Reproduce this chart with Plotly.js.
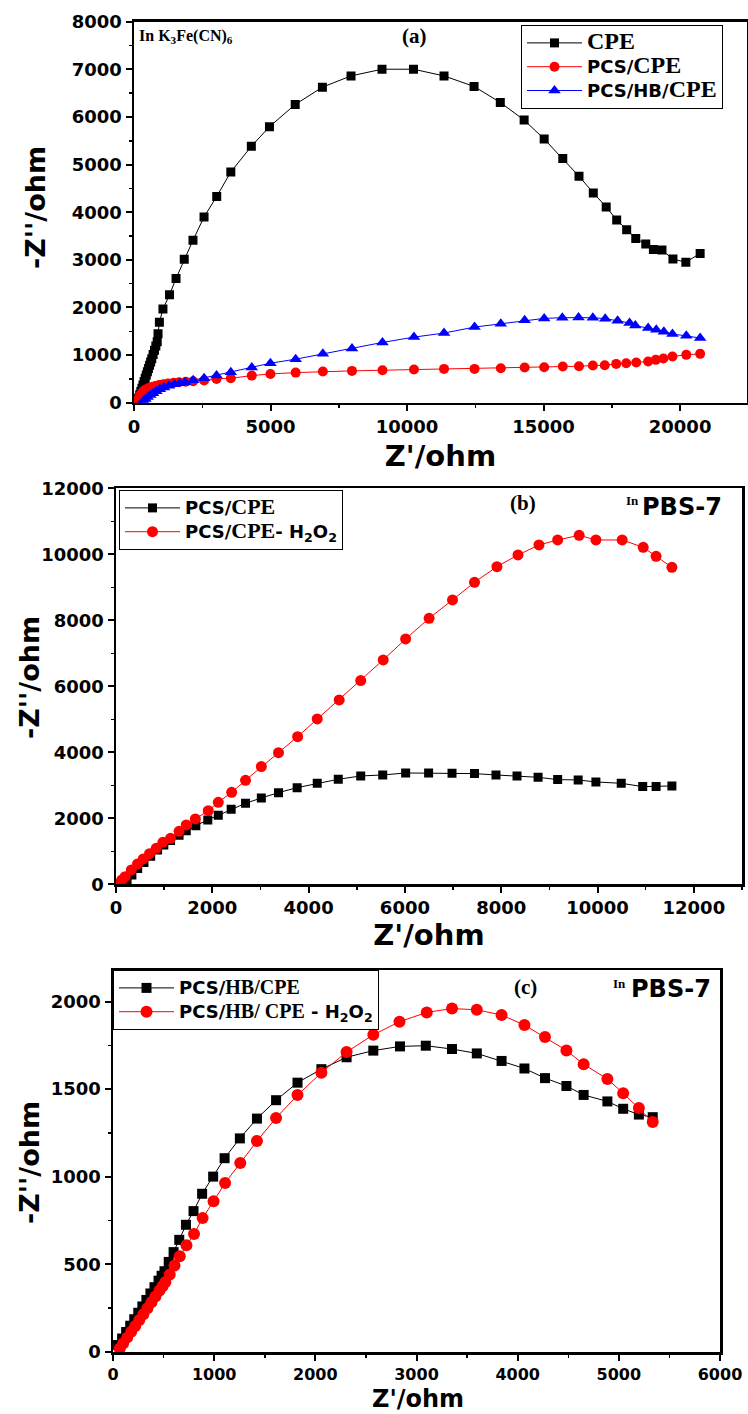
<!DOCTYPE html>
<html>
<head>
<meta charset="utf-8">
<script src="https://cdn.plot.ly/plotly-3.0.1.min.js"></script>
<style>html,body{margin:0;padding:0;background:#fff;}#chart{width:748px;height:1414px;}</style>
</head>
<body>
<div id="chart"></div>
<script>
// ---------- Panel (a): In K3Fe(CN)6 ----------
const aCPE_x = [130,170,210,250,290,330,370,410,450,490,530,570,610,650,700,750,800,850,880,930,1060,1300,1540,1840,2160,2565,3030,3546,4297,4961,5904,6900,7948,9083,10236,11354,12454,13415,14288,15022,15703,16297,16821,17293,17677,18044,18376,18742,19022,19336,19738,20210,20734];
const aCPE_y = [30,99,168,236,305,374,443,512,580,649,718,787,856,924,1010,1100,1190,1280,1450,1690,1965,2265,2610,3010,3410,3900,4330,4846,5383,5795,6262,6625,6862,7002,7002,6862,6640,6304,5935,5537,5125,4755,4405,4111,3837,3633,3450,3331,3219,3204,3015,2951,3134];
const aPCS_x = [130,180,230,290,360,450,550,650,780,920,1080,1250,1450,1650,1900,2166,2568,3022,3546,4314,4996,5921,6917,7983,9100,10253,11354,12472,13433,14306,15022,15703,16297,16804,17240,17660,18026,18393,18830,19110,19389,19720,20227,20734];
const aPCS_y = [30,100,160,210,250,285,310,330,350,370,390,405,420,430,440,450,465,499,513,569,604,632,654,668,682,696,710,710,724,738,745,759,766,780,787,815,829,843,864,900,928,970,1005,1026];
const aHB_x = [300,350,420,500,600,700,820,950,1100,1280,1480,1680,1869,2166,2568,3022,3546,4314,4996,5921,6917,7983,9100,10253,11354,12472,13433,14306,15022,15686,16280,16804,17258,17712,18149,18358,18830,19127,19406,19720,20227,20734];
const aHB_y = [10,40,80,120,160,200,240,280,320,355,385,410,430,471,513,569,640,738,829,914,1026,1138,1265,1377,1462,1588,1658,1729,1770,1785,1790,1785,1765,1720,1675,1620,1570,1530,1490,1440,1405,1356];

// ---------- Panel (b): In PBS-7 ----------
const bPCS_x = [150,230,330,450,580,720,864,993,1132,1310,1459,1658,1906,2124,2392,2690,3018,3375,3762,4179,4616,5082,5539,6015,6492,6978,7445,7891,8328,8765,9172,9598,9966,10492,10938,11216,11544];
const bPCS_y = [20,120,280,480,660,850,1040,1190,1330,1490,1620,1778,1949,2091,2273,2455,2616,2778,2929,3061,3182,3283,3313,3374,3374,3364,3354,3313,3283,3242,3172,3162,3101,3061,2960,2960,2980];
const bH2O2_x = [80,119,189,318,447,566,695,834,973,1132,1310,1459,1648,1916,2124,2402,2690,3018,3375,3772,4179,4635,5082,5549,6015,6502,6988,7445,7911,8348,8784,9172,9618,9966,10512,10948,11216,11544];
const bH2O2_y = [30,131,232,434,616,768,929,1091,1273,1394,1606,1798,1980,2232,2485,2788,3152,3566,3990,4475,5010,5586,6172,6800,7434,8061,8616,9152,9626,9980,10283,10434,10576,10434,10434,10212,9939,9606];

// ---------- Panel (c): In PBS-7 ----------
const cHB_x = [50,90,130,170,210,250,290,330,370,410,450,480,509,551,599,655,721,796,881,990,1103,1254,1423,1612,1824,2060,2309,2573,2837,3092,3351,3596,3841,4067,4270,4482,4652,4887,5043,5198,5335];
const cHB_y = [40,77,114,150,187,224,260,297,334,370,407,435,461,514,570,640,726,804,903,1001,1106,1219,1332,1437,1537,1614,1682,1720,1744,1748,1729,1704,1661,1618,1563,1518,1467,1430,1388,1355,1340];
const cH2O2_x = [66,100,140,180,220,260,300,340,380,420,460,490,518,561,608,660,726,801,886,994,1108,1258,1423,1612,1824,2060,2309,2573,2832,3101,3351,3596,3841,4067,4270,4482,4652,4887,5043,5198,5335];
const cH2O2_y = [19,48,82,115,149,183,216,250,284,317,351,375,399,442,493,546,609,674,764,860,965,1078,1204,1336,1466,1594,1712,1810,1885,1938,1960,1953,1923,1866,1797,1721,1642,1558,1477,1392,1313];

// ---------- Text ----------
const sans = (t, s) => '<span style="font-size:' + s + 'px">' + t + '</span>';
const serif = (t, s) => '<span style="font-family:Liberation Serif;font-size:' + s + 'px">' + t + '</span>';
const H2O2 = 'H<sub>2</sub>O<sub>2</sub>';
const namesA = [serif('CPE', 24),
                sans('PCS/', 18) + serif('CPE', 24),
                sans('PCS/HB/', 18) + serif('CPE', 24)];
const namesB = [sans('PCS/', 18) + serif('CPE', 22),
                sans('PCS/', 18) + serif('CPE', 22) + sans('- ' + H2O2, 18)];
const namesC = [sans('PCS/', 18) + serif('HB/CPE', 20),
                sans('PCS/', 18) + serif('HB/ CPE', 20) + sans(' - ' + H2O2, 18)];
const axTitleX = "Z'/ohm";
const axTitleY = "-Z''/ohm";

const W = 748, H = 1414;
const px = v => v / W;
const py = v => 1 - v / H;

function tr(x, y, name, color, symbol, size, xa, ya, leg) {
  return {x: x, y: y, name: name, type: 'scatter', mode: 'lines+markers',
    xaxis: xa, yaxis: ya, legend: leg, cliponaxis: true,
    line: {color: color, width: 1},
    marker: {color: color, symbol: symbol, size: size, line: {width: 0}}};
}

const data = [
  tr(aCPE_x, aCPE_y, namesA[0], '#000000', 'square', 9, 'x', 'y', 'legend'),
  tr(aPCS_x, aPCS_y, namesA[1], '#ff0000', 'circle', 10, 'x', 'y', 'legend'),
  tr(aHB_x, aHB_y, namesA[2], '#0000ff', 'triangle-up', 11, 'x', 'y', 'legend'),
  tr(bPCS_x, bPCS_y, namesB[0], '#000000', 'square', 9, 'x2', 'y2', 'legend2'),
  tr(bH2O2_x, bH2O2_y, namesB[1], '#ff0000', 'circle', 11, 'x2', 'y2', 'legend2'),
  tr(cHB_x, cHB_y, namesC[0], '#000000', 'square', 10, 'x3', 'y3', 'legend3'),
  tr(cH2O2_x, cH2O2_y, namesC[1], '#ff0000', 'circle', 12, 'x3', 'y3', 'legend3')
];

const titleFont = {family: 'DejaVu Sans', size: 29, weight: 'bold', color: '#000'};
function axis(domain, range, dtick, mdtick, anchor, title, standoff, fsize) {
  const a = {domain: domain, range: range, anchor: anchor, dtick: dtick, tick0: 0,
    tickformat: 'd', ticks: 'outside', ticklen: 6, tickwidth: 2, tickcolor: '#000',
    showline: true, linewidth: 2.5, linecolor: '#000', mirror: true,
    showgrid: false, zeroline: false, fixedrange: true,
    tickfont: {family: 'DejaVu Sans', size: fsize || 18, weight: 'bold', color: '#000'},
    minor: {dtick: mdtick, tick0: 0, ticks: 'outside', ticklen: 3, tickwidth: 1.5, tickcolor: '#000', showgrid: false}};
  if (title) a.title = {text: title, standoff: standoff, font: titleFont};
  return a;
}

const legBase = {bgcolor: 'rgba(255,255,255,0)', bordercolor: '#000', borderwidth: 1,
  xanchor: 'left', yanchor: 'top', itemwidth: 55, tracegroupgap: 0,
  font: {family: 'DejaVu Sans', size: 16, weight: 'bold', color: '#000'}};

function yTitle(x, y) {
  return {text: axTitleY, x: px(x), y: py(y), xref: 'paper', yref: 'paper', textangle: -90,
    xanchor: 'center', yanchor: 'middle', showarrow: false,
    font: {family: 'DejaVu Sans', size: 27, weight: 'bold', color: '#000'}};
}
function note(text, x, y, size, family, anchor) {
  return {text: text, x: px(x), y: py(y), xref: 'paper', yref: 'paper', xanchor: anchor || 'left',
    yanchor: 'middle', showarrow: false, font: {family: family, size: size, weight: 'bold', color: '#000'}};
}

const layout = {
  width: W, height: H, margin: {l: 0, r: 0, t: 0, b: 0},
  paper_bgcolor: '#fff', plot_bgcolor: '#fff', showlegend: true,
  xaxis:  axis([px(134), px(747)], [0, 22450], 5000, 2500, 'y', axTitleX, 10),
  yaxis:  axis([py(402.7), py(21.7)], [0, 8000], 1000, 500, 'x'),
  xaxis2: axis([px(116), px(742)], [0, 13000], 2000, 1000, 'y2', axTitleX, 3),
  yaxis2: axis([py(884.3), py(488.3)], [0, 12000], 2000, 1000, 'x2'),
  xaxis3: axis([px(113), px(720)], [0, 6000], 1000, 500, 'y3', null, 0, 16),
  yaxis3: axis([py(1352), py(970)], [0, 2180], 500, 250, 'x3'),
  legend:  Object.assign({}, legBase, {x: px(521), y: py(25)}),
  legend2: Object.assign({}, legBase, {x: px(119), y: py(490)}),
  legend3: Object.assign({}, legBase, {x: px(113), y: py(970)}),
  annotations: [
    yTitle(36, 208), yTitle(29, 678), yTitle(29, 1163),
    {text: axTitleX, x: px(418), y: 0, xref: 'paper', yref: 'paper', xanchor: 'center', yanchor: 'bottom',
     borderpad: 0, showarrow: false, font: {family: 'DejaVu Sans', size: 24, weight: 'bold', color: '#000'}},
    note('In K<sub>3</sub>Fe(CN)<sub>6</sub>', 137, 37, 16, 'Liberation Serif'),
    note('(a)', 414, 36, 21, 'Liberation Serif', 'center'),
    note('(b)', 523, 503, 21, 'Liberation Serif', 'center'),
    note('In', 624, 500, 13, 'Liberation Serif'),
    note('PBS-7', 640, 507, 24, 'DejaVu Sans'),
    note('(c)', 525, 987, 21, 'Liberation Serif', 'center'),
    note('In', 611, 983, 13, 'Liberation Serif'),
    note('PBS-7', 629, 989, 24, 'DejaVu Sans')
  ]
};

Plotly.newPlot('chart', data, layout, {displayModeBar: false, staticPlot: true});
</script>
</body>
</html>
